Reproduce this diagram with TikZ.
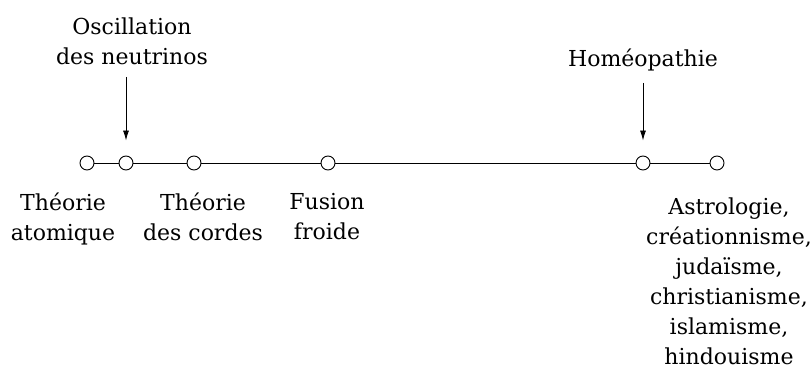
\documentclass[tikz,border=0pt]{standalone}
\usepackage{fontspec}
\setmainfont{DejaVu Serif}
\usepackage{tikz}
\usetikzlibrary{positioning,arrows.meta}

\begin{document}
\begin{tikzpicture}[
  x=1pt, y=1pt,
  pt/.style={draw,circle,minimum size=14pt,inner sep=0pt,line width=0.9pt},
  lbl/.style={font=\fontsize{22}{30}\selectfont,align=center,inner sep=0pt},
  arr/.style={-{Latex[length=10pt,width=6pt]},line width=0.9pt,shorten <=12pt,shorten >=15pt},
]
\useasboundingbox (0,0) rectangle (811,369);

\node[pt] (atom)  at (87,206)  {};
\node[pt] (osc)   at (126,206) {};
\node[pt] (cord)  at (194,206) {};
\node[pt] (fus)   at (328,206) {};
\node[pt] (homeo) at (643,206) {};
\node[pt] (astro) at (717,206) {};

\draw[line width=0.9pt] (atom) -- (osc) -- (cord) -- (fus) -- (homeo) -- (astro);

\node[lbl,anchor=north] (latom)  at (63,176)  {Théorie\\atomique};
\node[lbl,anchor=north] (lcord)  at (203,176) {Théorie\\des cordes};
\node[lbl,anchor=north] (lfus)   at (327,176) {Fusion\\froide};
\node[lbl,anchor=north] (lastro) at (729,171)
  {Astrologie,\\créationnisme,\\judaïsme,\\christianisme,\\islamisme,\\hindouisme};

\node[lbl,anchor=south] (losc)   at (132,304) {Oscillation\\des neutrinos};
\node[lbl,anchor=south] (lhomeo) at (643,298) {Homéopathie};

\draw[arr] (losc.south -| osc) -- (osc.north);
\draw[arr] (lhomeo.south) -- (homeo.north);
\end{tikzpicture}
\end{document}
